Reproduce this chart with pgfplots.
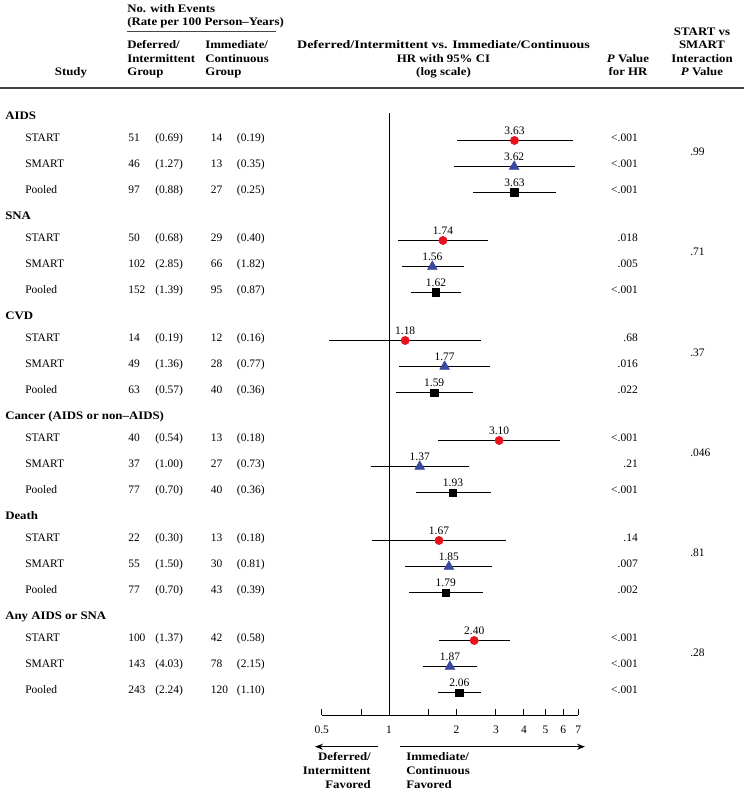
\documentclass[border=0pt]{standalone}
\usepackage{fontspec}
\setmainfont{Liberation Serif}[BoldFeatures={FakeStretch=1.12}, BoldItalicFeatures={FakeStretch=1.12}]
\newfontfamily\widebf{Liberation Serif}[BoldFeatures={FakeStretch=1.22}]
\usepackage{pgfplots}
\pgfplotsset{compat=1.18}
\usepackage{pgfplotstable}
\usetikzlibrary{arrows.meta}

\definecolor{startred}{RGB}{232,18,28}
\definecolor{smartblue}{RGB}{58,72,160}
\definecolor{rulegray}{RGB}{70,70,70}

% y = pixel row of the CI line (from the top), hr, 95% CI, label
\pgfplotstableread{
y hr lo hi lab
140.5 3.63 2.01 6.63 3.63
240.5 1.74 1.10 2.77 1.74
340.5 1.18 0.54 2.57 1.18
440.5 3.10 1.65 5.82 3.10
540.5 1.67 0.84 3.34 1.67
640.5 2.40 1.67 3.47 2.40
}\startdata
\pgfplotstableread{
y hr lo hi lab
166.5 3.62 1.95 6.75 3.62
266.5 1.56 1.14 2.15 1.56
366.5 1.77 1.11 2.81 1.77
466.5 1.37 0.83 2.28 1.37
566.5 1.85 1.18 2.89 1.85
666.5 1.87 1.42 2.48 1.87
}\smartdata
\pgfplotstableread{
y hr lo hi lab
192.5 3.63 2.36 5.59 3.63
292.5 1.62 1.25 2.10 1.62
392.5 1.59 1.07 2.38 1.59
492.5 1.93 1.32 2.85 1.93
592.5 1.79 1.23 2.62 1.79
692.5 2.06 1.65 2.57 2.06
}\pooleddata

\pgfplotsset{
  ci/.style={draw=none, mark=none, forget plot,
    error bars/.cd, x dir=both, x explicit, error mark=none,
    error bar style={black, line width=0.75pt}},
  hrlabel/.style={nodes near coords, point meta=explicit symbolic,
    nodes near coords style={black, anchor=base, inner sep=0pt, yshift=4.5pt}},
}

% one table row: line y, name, n1, rate1, n2, rate2, P
\newcommand\rowtext[7]{%
  \node[anchor=base west] at (25,{-#1-1}) {#2};
  \node[anchor=base west] at (128,{-#1-1}) {#3};
  \node[anchor=base west] at (155,{-#1-1}) {(#4)};
  \node[anchor=base west] at (210.7,{-#1-1}) {#5};
  \node[anchor=base west] at (236.7,{-#1-1}) {(#6)};
  \node[anchor=base east] at (638,{-#1-1}) {#7};}

\begin{document}
\fontsize{8.6}{9.75}\selectfont
\begin{tikzpicture}
\begin{scope}[x=0.75pt, y=0.75pt, every node/.style={inner sep=0pt}]
\useasboundingbox (0,0) rectangle (744,-791);

% column heads
\begin{scope}[font=\bfseries]
\node[anchor=base west] at (127,-13) {No. with Events};
\node[anchor=base west] at (127,-26) {(Rate per 100 Person--Years)};
\node[anchor=base west] at (127,-49) {Deferred/};
\node[anchor=base west] at (127,-62.5) {Intermittent};
\node[anchor=base west] at (127,-76) {Group};
\node[anchor=base west] at (205,-49) {Immediate/};
\node[anchor=base west] at (205,-62.5) {Continuous};
\node[anchor=base west] at (205,-76) {Group};
\node[anchor=base] at (71,-76) {Study};
\node[anchor=base, font=\widebf\bfseries] at (443.5,-49) {Deferred/Intermittent vs. Immediate/Continuous};
\node[anchor=base] at (443.5,-62.5) {HR with 95\% CI};
\node[anchor=base] at (443.5,-76) {(log scale)};
\node[anchor=base] at (628,-62.5) {\textit{P} Value};
\node[anchor=base] at (628,-76) {for HR};
\node[anchor=base] at (702,-36) {START vs};
\node[anchor=base] at (702,-49) {SMART};
\node[anchor=base] at (702,-62.5) {Interaction};
\node[anchor=base] at (702,-76) {\textit{P} Value};
\end{scope}
\draw[rulegray, line width=0.75pt] (127,-32) -- (276,-32);
\draw[rulegray, line width=0.9pt] (0,-88) -- (744,-88);

% outcome groups
\begin{scope}[font=\bfseries]
\node[anchor=base west] at (5,-119.5) {AIDS};
\node[anchor=base west] at (5,-219.5) {SNA};
\node[anchor=base west] at (5,-319.5) {CVD};
\node[anchor=base west] at (5,-419.5) {Cancer (AIDS or non--AIDS)};
\node[anchor=base west] at (5,-519.5) {Death};
\node[anchor=base west] at (5,-619.5) {Any AIDS or SNA};
\end{scope}

\rowtext{140.5}{START}{51}{0.69}{14}{0.19}{<.001}
\rowtext{166.5}{SMART}{46}{1.27}{13}{0.35}{<.001}
\rowtext{192.5}{Pooled}{97}{0.88}{27}{0.25}{<.001}
\rowtext{240.5}{START}{50}{0.68}{29}{0.40}{.018}
\rowtext{266.5}{SMART}{102}{2.85}{66}{1.82}{.005}
\rowtext{292.5}{Pooled}{152}{1.39}{95}{0.87}{<.001}
\rowtext{340.5}{START}{14}{0.19}{12}{0.16}{.68}
\rowtext{366.5}{SMART}{49}{1.36}{28}{0.77}{.016}
\rowtext{392.5}{Pooled}{63}{0.57}{40}{0.36}{.022}
\rowtext{440.5}{START}{40}{0.54}{13}{0.18}{<.001}
\rowtext{466.5}{SMART}{37}{1.00}{27}{0.73}{.21}
\rowtext{492.5}{Pooled}{77}{0.70}{40}{0.36}{<.001}
\rowtext{540.5}{START}{22}{0.30}{13}{0.18}{.14}
\rowtext{566.5}{SMART}{55}{1.50}{30}{0.81}{.007}
\rowtext{592.5}{Pooled}{77}{0.70}{43}{0.39}{.002}
\rowtext{640.5}{START}{100}{1.37}{42}{0.58}{<.001}
\rowtext{666.5}{SMART}{143}{4.03}{78}{2.15}{<.001}
\rowtext{692.5}{Pooled}{243}{2.24}{120}{1.10}{<.001}

% interaction P values
\node[anchor=base west] at (690,-156) {.99};
\node[anchor=base west] at (690,-256) {.71};
\node[anchor=base west] at (690,-356) {.37};
\node[anchor=base west] at (690,-456) {.046};
\node[anchor=base west] at (690,-556) {.81};
\node[anchor=base west] at (690,-656) {.28};

% direction of benefit
\draw[-{Stealth[length=6pt, width=4.5pt]}, line width=0.75pt] (378,-746.7) -- (315,-746.7);
\draw[-{Stealth[length=6pt, width=4.5pt]}, line width=0.75pt] (400,-746.7) -- (585,-746.7);
\begin{scope}[font=\bfseries]
\node[anchor=base east] at (371,-760.5) {Deferred/};
\node[anchor=base east] at (371,-774.5) {Intermittent};
\node[anchor=base east] at (371,-788) {Favored};
\node[anchor=base west] at (406,-760.5) {Immediate/};
\node[anchor=base west] at (406,-774.5) {Continuous};
\node[anchor=base west] at (406,-788) {Favored};
\end{scope}
\end{scope}

\begin{axis}[
    at={(241.275pt,-536.25pt)}, anchor=south west,
    scale only axis, width=192.45pt, height=457.5pt,
    xmode=log, xmin=0.5, xmax=7,
    ymin=-715, ymax=-105,
    clip=false,
    axis x line=bottom, axis y line=none,
    x axis line style={-, line width=0.75pt},
    xtick={0.5,0.75,1,1.5,2,3,4,5,6,7},
    xticklabels={0.5,,1,,2,3,4,5,6,7},
    xminorticks=false,
    tick align=inside,
    major tick length=4.5pt,
    tick style={line width=0.75pt, black},
    xticklabel style={anchor=base, yshift=-13.5pt},
  ]
\addplot[black, line width=0.9pt, forget plot] coordinates {(1,-113) (1,-715)};

\addplot[ci] table[x=hr, y expr=-\thisrow{y},
  x error plus expr=\thisrow{hi}-\thisrow{hr},
  x error minus expr=\thisrow{hr}-\thisrow{lo}] \startdata;
\addplot[ci] table[x=hr, y expr=-\thisrow{y},
  x error plus expr=\thisrow{hi}-\thisrow{hr},
  x error minus expr=\thisrow{hr}-\thisrow{lo}] \smartdata;
\addplot[ci] table[x=hr, y expr=-\thisrow{y},
  x error plus expr=\thisrow{hi}-\thisrow{hr},
  x error minus expr=\thisrow{hr}-\thisrow{lo}] \pooleddata;

\addplot[only marks, mark=*, mark size=3.1pt, startred, hrlabel]
  table[x=hr, y expr=-\thisrow{y}, meta=lab] \startdata;
\addplot[only marks, mark=triangle*, mark size=4.2pt, smartblue, hrlabel]
  table[x=hr, y expr=-\thisrow{y}, meta=lab] \smartdata;
\addplot[only marks, mark=square*, mark size=2.8pt, black, hrlabel]
  table[x=hr, y expr=-\thisrow{y}, meta=lab] \pooleddata;
\end{axis}
\end{tikzpicture}
\end{document}
